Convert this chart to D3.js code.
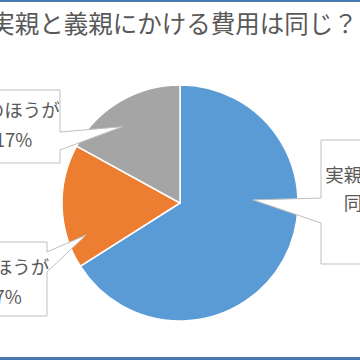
<!DOCTYPE html>
<html><head><meta charset="utf-8">
<script src="https://cdn.jsdelivr.net/npm/d3@7"></script>
<style>html,body{margin:0;padding:0;background:#fff;overflow:hidden}svg{display:block}</style>
</head><body>
<svg id="c" width="360" height="360"></svg>
<script>
const title = "実親と義親にかける費用は同じ？";
const categories = ["実親・義親とも同じくらい", "実のほうが", "義のほうが"];
const values = [66, 17, 17];
const colors = ["#5B9BD5", "#ED7D31", "#A5A5A5"];
const labelLines = [["実親・義親とも", "同じくらい", "66%"], ["実のほうが", "17%"], ["義のほうが", "17%"]];

// layout of callout boxes (label annotations)
const callouts = [
  {x0: 321, x1: 459, y0: 140, y1: 264, side: "left",  b0: 198, b1: 223, tipAngle: 87.6,  tipR: 0.62, base: 182, lh: 28},
  {x0: -41, x1: 47,  y0: 242, y1: 316, side: "right", b0: 252, b1: 272, tipAngle: 251.2, tipR: 0.84, base: 274, lh: 30},
  {x0: -33, x1: 60,  y0: 90,  y1: 163, side: "right", b0: 132, b1: 150, tipAngle: 323,   tipR: 0.81, base: 117, lh: 30}
];

const svg = d3.select("#c");
const W = 360, H = 360;
svg.append("rect").attr("width", W).attr("height", H).attr("fill", "#fff");

const cx = 180, cy = 203, R = 118;
const g = svg.append("g").attr("transform", `translate(${cx},${cy})`);
const pie = d3.pie().sort(null).value(d => d)(values);
const arc = d3.arc().innerRadius(0).outerRadius(R);
g.selectAll("path.slice").data(pie).join("path")
  .attr("class", "slice")
  .attr("d", arc)
  .attr("fill", (d, i) => colors[i])
  .attr("stroke", "#fff").attr("stroke-width", 1.5);

callouts.forEach((c, i) => {
  const a = c.tipAngle * Math.PI / 180;
  const tx = cx + R * c.tipR * Math.sin(a), ty = cy - R * c.tipR * Math.cos(a);
  let p;
  if (c.side === "right") {
    p = `M${c.x0},${c.y0}L${c.x1},${c.y0}L${c.x1},${c.b0}L${tx},${ty}L${c.x1},${c.b1}L${c.x1},${c.y1}L${c.x0},${c.y1}Z`;
  } else {
    p = `M${c.x1},${c.y0}L${c.x0},${c.y0}L${c.x0},${c.b0}L${tx},${ty}L${c.x0},${c.b1}L${c.x0},${c.y1}L${c.x1},${c.y1}Z`;
  }
  svg.append("path").attr("d", p).attr("fill", "#fff").attr("stroke", "#bfbfbf").attr("stroke-width", 1);
  const mx = (c.x0 + c.x1) / 2;
  const t = svg.append("text").attr("text-anchor", "middle")
    .attr("font-family", "'Noto Sans CJK JP', 'Noto Sans', sans-serif")
    .attr("font-size", 18.5).attr("fill", "#595959");
  labelLines[i].forEach((ln, k) => {
    t.append("tspan").attr("x", mx).attr("y", c.base + k * c.lh).text(ln);
  });
});

svg.append("text").attr("x", 174).attr("y", 33).attr("text-anchor", "middle")
  .attr("font-family", "'Noto Sans CJK JP', sans-serif").attr("font-size", 24.5)
  .attr("fill", "#595959").text(title);

svg.append("rect").attr("x", 0).attr("y", 0).attr("width", W).attr("height", 2).attr("fill", "#4a78b5");
svg.append("rect").attr("x", 0).attr("y", 357).attr("width", W).attr("height", 3).attr("fill", "#4a78b5");
</script>
</body></html>
